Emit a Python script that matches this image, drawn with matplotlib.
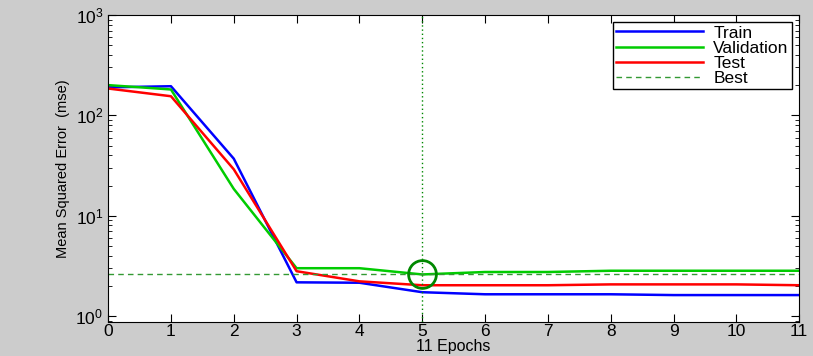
import matplotlib
matplotlib.use('Agg')
import matplotlib.pyplot as plt
import numpy as np

plt.rcParams['font.family'] = ['Liberation Sans', 'DejaVu Sans']

epochs = [0, 1, 2, 3, 4, 5, 6, 7, 8, 9, 10, 11]
train = [190, 195, 37, 2.17, 2.15, 1.73, 1.65, 1.65, 1.65, 1.62, 1.62, 1.62]
validation = [200, 181, 18.5, 3.0, 3.0, 2.6, 2.75, 2.75, 2.83, 2.83, 2.83, 2.83]
test = [185, 155, 29, 2.8, 2.22, 2.03, 2.03, 2.03, 2.07, 2.07, 2.07, 2.03]
best_epoch = 5
best_value = 2.6

fig = plt.figure(figsize=(8.13, 3.56), dpi=100, facecolor='#cccccc')
ax = fig.add_axes([0.133, 0.095, 0.850, 0.863])

ax.semilogy(epochs, train, color='#0000ff', lw=1.8, label='Train')
ax.semilogy(epochs, validation, color='#00cc00', lw=1.8, label='Validation')
ax.semilogy(epochs, test, color='#ff0000', lw=1.8, label='Test')
ax.axhline(best_value, color='#339933', lw=1, ls=(0, (4, 3)), label='Best')
ax.axvline(best_epoch, color='#008800', lw=1, ls=(0, (1, 2)))
ax.plot([best_epoch], [best_value], 'o', ms=20, mfc='none', mec='#008800', mew=2)

ax.set_xlim(0, 11)
ax.set_ylim(0.87, 1000)
ax.set_xticks(range(0, 12))
ax.tick_params(which='both', direction='in', top=True, right=True, labelsize=12.5)
ax.tick_params(axis='x', pad=1)
ax.tick_params(which='major', length=6)
ax.tick_params(which='minor', length=3)
ax.set_xlabel('11 Epochs', fontsize=11.5, labelpad=0)
ax.set_ylabel('Mean Squared Error  (mse)', fontsize=10.5)

leg = ax.legend(loc='upper right', fontsize=12.5, fancybox=False, framealpha=1,
                edgecolor='black', borderaxespad=0.4, handlelength=5.0,
                labelspacing=0.0, borderpad=0.2, handletextpad=0.6)
leg.get_frame().set_linewidth(1)

fig.savefig('out.png', dpi=100, facecolor=fig.get_facecolor())
